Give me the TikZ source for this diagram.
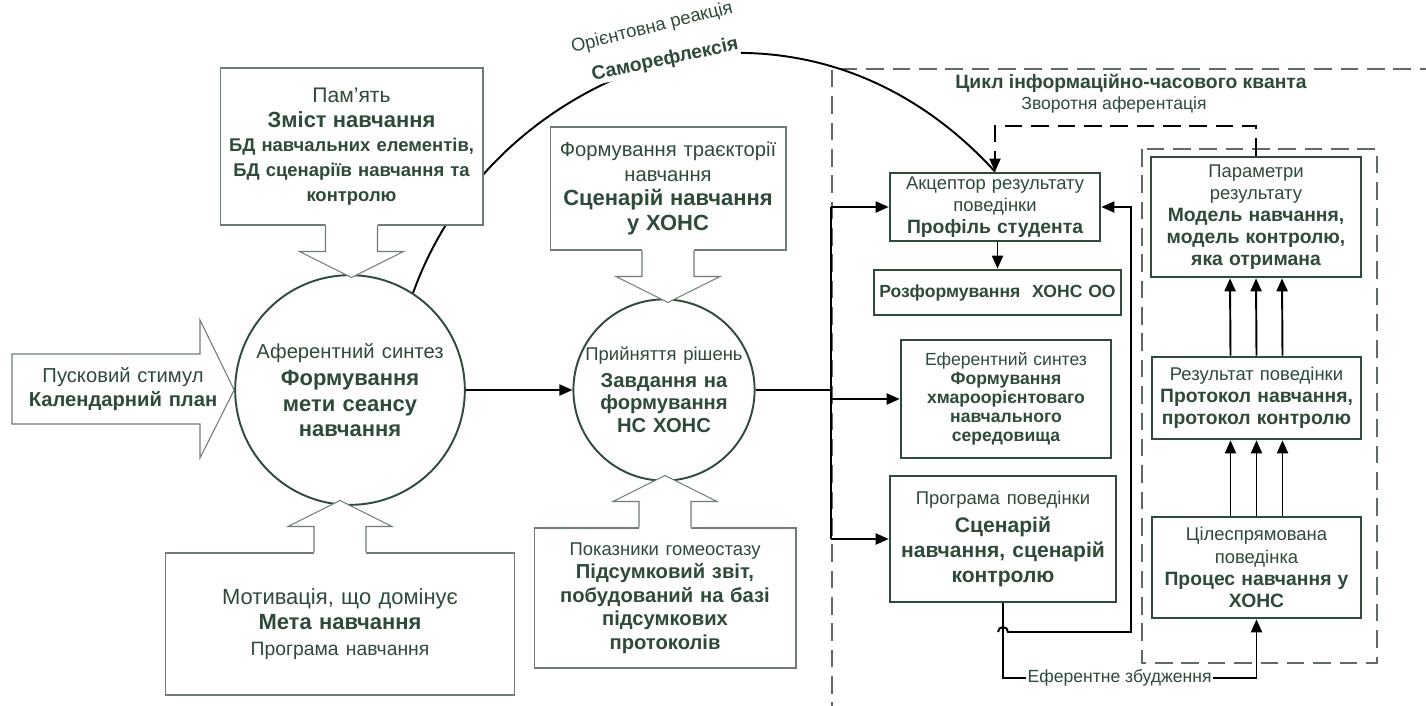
\documentclass[tikz,border=0pt]{standalone}
\usepackage{fontspec}
\setmainfont{Liberation Sans}
\usetikzlibrary{arrows.meta,calc,positioning}
\definecolor{txtgreen}{HTML}{2E4A39}
\definecolor{boxgreen}{HTML}{2F4C3A}
\definecolor{calloutline}{HTML}{6E7D72}
\definecolor{dashgrey}{HTML}{5E6A62}
\tikzset{
  callbox/.style={rectangle, draw=calloutline, line width=0.6pt, fill=white, align=center, text=txtgreen, inner sep=0pt},
  stem/.style={draw=calloutline, line width=0.6pt},
  phase/.style={circle, draw=boxgreen, line width=1.1pt, fill=white, align=center, text=txtgreen, inner sep=0pt},
  block/.style={rectangle, draw=boxgreen, line width=1.5pt, fill=white, align=center, text=txtgreen, inner sep=0pt,
    font=\fontsize{10.5}{12.6}\selectfont},
  wire/.style={line width=1.1pt, draw=black},
  flow/.style={wire, -{Triangle[length=2.6mm,width=2.2mm]}},
  feedback/.style={flow, dash pattern=on 10pt off 5pt},
  frame/.style={draw=dashgrey, line width=0.9pt, dash pattern=on 10pt off 5pt},
  note/.style={font=\fontsize{10}{12}\selectfont, text=txtgreen, inner sep=1pt}
}
% callout stem: #1 anchor on the box edge, #2 = 1 (down) or -1 (up)
\newcommand{\callstem}[2]{%
  \begin{scope}[shift={(#1)}, yscale=#2]
    \fill[white] (-26,-2) -- (-26,26) -- (-52,26) -- (0,52) -- (52,26) -- (26,26) -- (26,-2) -- cycle;
    \draw[stem] (-26,0) -- (-26,26) -- (-52,26) -- (0,52) -- (52,26) -- (26,26) -- (26,0);
  \end{scope}}

\begin{document}
\begin{tikzpicture}[x=0.02cm,y=-0.02cm]
\useasboundingbox (0,0) rectangle (1426,706);
\fill[white] (0,0) rectangle (1426,706);

% functional system frames
\draw[frame] (832,720) -- (832,69) -- (1440,69);
\draw[frame] (1142,149) rectangle (1377,663);
\node[font=\fontsize{11}{13}\selectfont\bfseries, text=txtgreen] (cycle) at (1131,83) {Цикл інформаційно-часового кванта};
\node[note] (backaff) at (1114,105) {Зворотня аферентація};

% phases
\node[phase, minimum size=4.52cm, text width=4.2cm, font=\fontsize{12.5}{14.5}\selectfont] (aff) at (350,390)
  {{\fontsize{11.5}{14}\selectfont Аферентний синтез}\\[1pt]
   \textbf{Формування\\ мети сеансу\\ навчання}};
\node[phase, minimum size=3.48cm, text width=3.2cm, font=\fontsize{11.5}{13}\selectfont] (dec) at (664,390)
  {{\fontsize{10.5}{13}\selectfont Прийняття рішень}\\[2pt]
   \textbf{Завдання на\\ формування\\ НС ХОНС}};

% left column of the cycle
\node[block, minimum width=4.2cm, minimum height=1.36cm, text width=4cm] (acc) at (995,207)
  {Акцептор результату\\ поведінки\\ {\fontsize{11}{13}\selectfont\bfseries Профіль студента}};
\node[block, minimum width=4.94cm, minimum height=0.9cm, text width=4.9cm, font=\fontsize{10}{12}\selectfont] (unform) at (997.5,292.5)
  {\bfseries Розформування\ \ ХОНС ОО};
\node[block, minimum width=4.2cm, minimum height=2.36cm, text width=4cm, font=\fontsize{10}{10.8}\selectfont] (eff) at (1006,399)
  {Еферентний синтез\\ \textbf{Формування\\ хмароорієнтоваго\\ навчального\\ середовища}};
\node[block, minimum width=4.52cm, minimum height=2.52cm, text width=4.3cm, font=\fontsize{12}{14}\selectfont] (prog) at (1003,539)
  {{\fontsize{10.5}{13}\selectfont Програма поведінки}\\[2pt] \textbf{Сценарій\\ навчання, сценарій\\ контролю}};

% right column of the cycle
\node[block, minimum width=4.2cm, minimum height=2.4cm, text width=4cm] (par) at (1256,217)
  {Параметри\\ результату\\ {\fontsize{11}{12.6}\selectfont\bfseries Модель навчання,\\ модель контролю,\\ яка отримана}};
\node[block, minimum width=4.18cm, minimum height=1.64cm, text width=4cm] (res) at (1256.5,398)
  {Результат поведінки\\ {\fontsize{11}{12.6}\selectfont\bfseries Протокол навчання,\\ протокол контролю}};
\node[block, minimum width=4.18cm, minimum height=2.02cm, text width=4cm] (goal) at (1256.5,567.5)
  {Цілеспрямована\\ поведінка\\ {\fontsize{11}{12.6}\selectfont\bfseries Процес навчання у\\ ХОНС}};

\foreach \dx in {-26,0,26} {
  \draw[flow] ($(res.north)+(\dx,0)$) -- ($(par.south)+(\dx,0)$);
  \draw[flow] ($(goal.north)+(\dx,0)$) -- ($(res.south)+(\dx,0)$);
}
\draw[flow] (acc.south -| unform.north) -- (unform.north);
\draw[feedback] (par.north) -- ++(0,-30) -| (acc.north);

% bus from decision
\coordinate (busA) at (831,207);
\coordinate (busB) at (831,539);
\draw[wire] (busA) -- (busB);
\draw[flow] (aff.east) -- (dec.west);
\draw[wire] (dec.east) -- (dec.east -| busA);
\draw[flow] (busA) -- (acc.west);
\draw[flow] (busA |- eff.west) -- (eff.west);
\draw[flow] (busB) -- (prog.west);

% efferent copy and excitation
\coordinate (loopC) at (1131,632);
\draw[flow] ($(prog.south |- loopC)+(-5,0)$) arc[start angle=180, end angle=360, radius=5] -- (loopC) |- (acc.east);
\draw[flow] (prog.south) -- ++(0,75) -| node[note, fill=white, pos=0.23] (effexc) {Еферентне збудження} (goal.south);

% self-reflection arc
\draw[wire] (aff.57) .. controls (450,190) and (535,100) .. (665,60)
  node[font=\fontsize{11}{13}\selectfont\bfseries, text=txtgreen, fill=white, inner sep=0.5pt, rotate=12] (selfref) {Саморефлексія}
  .. controls (820,30) and (930,100) .. (acc.north);
\node[note, font=\fontsize{10.5}{12}\selectfont, rotate=14, inner sep=0pt] (orient) at (652,28) {Орієнтовна реакція};

% callouts
\node[callbox, minimum width=5.26cm, minimum height=3.14cm, text width=5cm, font=\fontsize{10.5}{14}\selectfont] (mem) at (351.5,146.5)
  {{\fontsize{12}{14}\selectfont Пам’ять}\\
   {\fontsize{12.5}{15}\selectfont\bfseries Зміст навчання}\\
   \textbf{БД навчальних елементів,\\ БД сценаріїв навчання та\\ контролю}};
\callstem{mem.south}{1}
\node[callbox, minimum width=4.72cm, minimum height=2.46cm, text width=4.5cm, font=\fontsize{11.5}{14}\selectfont] (traj) at (668,188.5)
  {Формування траєкторії\\ навчання\\
   {\fontsize{12.5}{14}\selectfont\bfseries Сценарій навчання\\ у ХОНС}};
\callstem{traj.south}{1}
\node[callbox, minimum width=7.0cm, minimum height=2.84cm, text width=6.5cm, font=\fontsize{12.5}{14.5}\selectfont] (motiv) at (340,624)
  {Мотивація, що домінує\\
   \textbf{Мета навчання}\\
   {\fontsize{11}{14}\selectfont Програма навчання}};
\callstem{motiv.north}{-1}
\node[callbox, minimum width=5.24cm, minimum height=2.8cm, text width=5cm, font=\fontsize{11.5}{13.4}\selectfont] (homeo) at (665,598)
  {{\fontsize{10.5}{13.4}\selectfont Показники гомеостазу}\\
   \textbf{Підсумковий звіт,\\ побудований на базі\\ підсумкових\\ протоколів}};
\callstem{homeo.north}{-1}
\draw[stem, fill=white] (12,354) -- (200,354) -- (200,320) -- (aff.west) -- (200,458) -- (200,424) -- (12,424) -- cycle;
\node[text=txtgreen, align=center, text width=4.4cm, font=\fontsize{11.5}{14}\selectfont] (stim) at (123,389)
  {Пусковий стимул\\ \textbf{Календарний план}};
\end{tikzpicture}
\end{document}
